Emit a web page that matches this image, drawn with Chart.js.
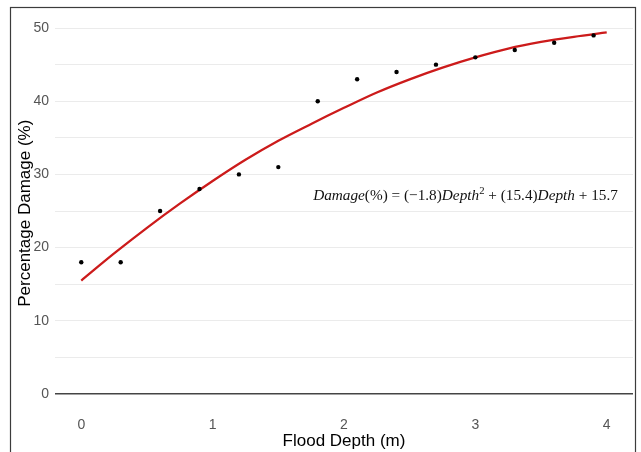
<!DOCTYPE html>
<html>
<head>
<meta charset="utf-8">
<script src="https://cdn.jsdelivr.net/npm/chart.js@4/dist/chart.umd.min.js"></script>
<style>
html,body{margin:0;padding:0;background:#ffffff;}
#wrap{width:641px;height:452px;position:relative;}
</style>
</head>
<body>
<div id="wrap"><canvas id="c" width="641" height="452"></canvas></div>
<script>
// ---- Data ----
const depthPoints  = [0, 0.3, 0.6, 0.9, 1.2, 1.5, 1.8, 2.1, 2.4, 2.7, 3.0, 3.3, 3.6, 3.9];
const damagePoints = [18, 18, 25, 28, 30, 31, 40, 43, 44, 45, 46, 47, 48, 49];

const fitDepth  = [0, 0.25, 0.5, 0.75, 1.0, 1.25, 1.5, 1.75, 2.0, 2.25, 2.5, 2.75, 3.0, 3.25, 3.5, 3.75, 4.0];
const fitDamage = [15.5, 19.2, 22.7, 26.0, 29.1, 32.0, 34.6, 36.9, 39.1, 41.2, 43.0, 44.6, 46.0, 47.2, 48.1, 48.8, 49.4];

const xTicks = [0, 1, 2, 3, 4];
const yGridValues = [0, 5, 10, 15, 20, 25, 30, 35, 40, 45, 50];
const yLabelValues = [0, 10, 20, 30, 40, 50];

const xTitle = 'Flood Depth (m)';
const yTitle = 'Percentage Damage (%)';

const equationParts = [
  {t: 'Damage', italic: true},
  {t: '(%) = (\u22121.8)', italic: false},
  {t: 'Depth', italic: true},
  {t: '2', sup: true},
  {t: ' + (15.4)', italic: false},
  {t: 'Depth', italic: true},
  {t: ' + 15.7', italic: false}
];
const equationAnchor = {x: 1.765, y: 26.5};

// ---- Build ----
const scatterData = depthPoints.map((d, i) => ({x: d, y: damagePoints[i]}));
const fitData = fitDepth.map((d, i) => ({x: d, y: fitDamage[i]}));

const SANS = '"Liberation Sans", Arial, sans-serif';
const SERIF = '"Liberation Serif", "DejaVu Serif", serif';

const framePlugin = {
  id: 'frameAndEquation',
  afterDraw(chart) {
    const ctx = chart.ctx;
    // outer frame
    ctx.save();
    ctx.strokeStyle = '#3c3c3c';
    ctx.lineWidth = 1.2;
    ctx.strokeRect(10.5, 7.5, 625, 470);
    ctx.restore();

    // equation
    const xs = chart.scales.x, ys = chart.scales.y;
    const x0 = xs.getPixelForValue(equationAnchor.x);
    const base = ys.getPixelForValue(equationAnchor.y);
    const targetWidth = 305;
    const measure = (size) => {
      let w = 0;
      for (const p of equationParts) {
        const s = p.sup ? size * 0.7 : size;
        ctx.font = (p.italic ? 'italic ' : '') + s + 'px ' + SERIF;
        w += ctx.measureText(p.t).width;
      }
      return w;
    };
    ctx.save();
    let size = 16;
    size = size * targetWidth / measure(size);
    let x = x0;
    ctx.fillStyle = '#111111';
    ctx.textBaseline = 'alphabetic';
    ctx.textAlign = 'left';
    for (const p of equationParts) {
      const s = p.sup ? size * 0.7 : size;
      ctx.font = (p.italic ? 'italic ' : '') + s + 'px ' + SERIF;
      const y = p.sup ? base - size * 0.38 : base;
      ctx.fillText(p.t, x, y);
      x += ctx.measureText(p.t).width;
    }
    ctx.restore();
  }
};

new Chart(document.getElementById('c'), {
  type: 'scatter',
  data: {
    datasets: [
      {
        label: 'Observed',
        data: scatterData,
        backgroundColor: '#000000',
        borderColor: '#000000',
        pointRadius: 2.2,
        pointBorderWidth: 0,
        showLine: false
      },
      {
        label: 'Fit',
        data: fitData,
        showLine: true,
        borderColor: '#cc1b1b',
        borderWidth: 2.3,
        pointRadius: 0,
        tension: 0.4,
        cubicInterpolationMode: 'monotone',
        fill: false
      }
    ]
  },
  options: {
    responsive: false,
    animation: false,
    devicePixelRatio: 1,
    layout: {padding: {left: 0, right: 8, top: 8, bottom: 0}},
    plugins: {legend: {display: false}, tooltip: {enabled: false}},
    scales: {
      x: {
        type: 'linear',
        min: -0.2,
        max: 4.2,
        afterBuildTicks: (s) => { s.ticks = xTicks.map(v => ({value: v})); },
        afterFit: (s) => { s.height = 40; },
        grid: {display: false, drawTicks: false},
        border: {display: false},
        ticks: {
          color: '#555555',
          font: {family: SANS, size: 14},
          padding: 5,
          maxRotation: 0,
          callback: (v) => String(v)
        },
        title: {
          display: true,
          text: xTitle,
          color: '#000000',
          font: {family: SANS, size: 17},
          padding: {top: 0, bottom: 0}
        }
      },
      y: {
        type: 'linear',
        min: -2.47,
        max: 51.87,
        afterBuildTicks: (s) => { s.ticks = yGridValues.map(v => ({value: v})); },
        afterFit: (s) => { s.width = 55; },
        grid: {
          drawTicks: false,
          color: (c) => c.tick && c.tick.value === 0 ? '#444444' : '#ebebeb',
          lineWidth: (c) => c.tick && c.tick.value === 0 ? 1.6 : 1
        },
        border: {display: false},
        ticks: {
          color: '#555555',
          font: {family: SANS, size: 14},
          padding: 6,
          callback: (v) => yLabelValues.includes(v) ? String(v) : ''
        },
        title: {
          display: true,
          text: yTitle,
          color: '#000000',
          font: {family: SANS, size: 17},
          padding: {top: 15, bottom: 0}
        }
      }
    }
  },
  plugins: [framePlugin]
});
</script>
</body>
</html>
